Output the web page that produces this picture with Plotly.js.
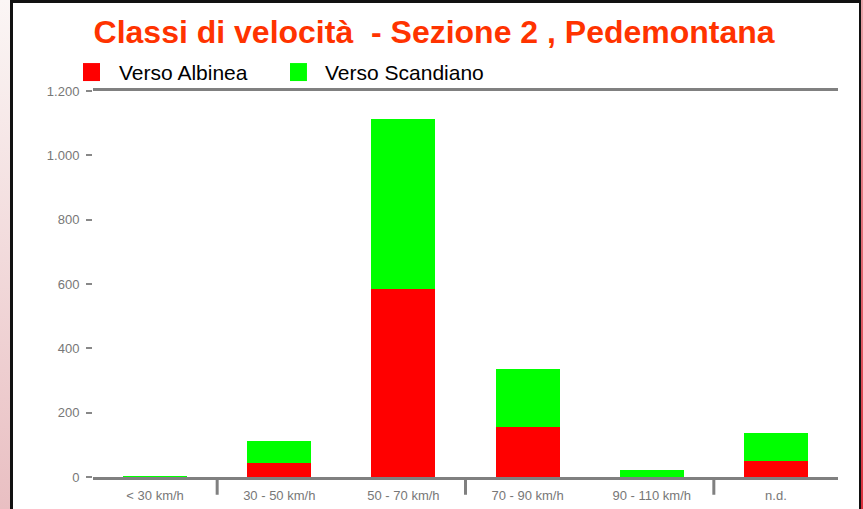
<!DOCTYPE html>
<html>
<head>
<meta charset="utf-8">
<script src="https://cdn.plot.ly/plotly-3.0.1.min.js"></script>
<style>
  html, body { margin: 0; padding: 0; background: #fff; }
  #frame { position: relative; width: 863px; height: 509px; overflow: hidden;
           background: linear-gradient(to bottom, #fbf6f5, #e9bfc2); }
  #box { position: absolute; left: 10px; top: 0; width: 852px; height: 509px; box-sizing: border-box;
         background: #fff; border-left: 3px solid #111; border-right: 3px solid #111; border-top: 3px solid #111; }
  #rstrip { position: absolute; left: 861px; top: 0; width: 2px; height: 509px;
            background: linear-gradient(to bottom, #e8a4aa, #d8303c); }
  #chart { position: absolute; left: 0; top: 0; width: 863px; height: 509px; }
</style>
</head>
<body>
<div id="frame">
  <div id="box"></div>
  <div id="rstrip"></div>
  <div id="chart"></div>
</div>
<script>
const categories = ["< 30 km/h", "30 - 50 km/h", "50 - 70 km/h", "70 - 90 km/h", "90 - 110 km/h", "n.d."];
const seriesNames = ["Verso Albinea", "Verso Scandiano"];
const versoAlbinea = [1, 43, 586, 155, 1, 50];
const versoScandiano = [3, 69, 527, 180, 21, 86];
const yTickValues = [0, 200, 400, 600, 800, 1000, 1200];
const titleText = "Classi di velocità \u00a0- Sezione 2 , Pedemontana";

const colors = ["#ff0000", "#00ff00"];

const traces = [
  { type: "bar", name: seriesNames[0], x: categories, y: versoAlbinea,
    marker: { color: colors[0], line: { width: 0 } }, showlegend: false, hoverinfo: "none" },
  { type: "bar", name: seriesNames[1], x: categories, y: versoScandiano,
    marker: { color: colors[1], line: { width: 0 } }, showlegend: false, hoverinfo: "none" }
];

// separator ticks under the category axis (every other boundary)
const sepShapes = [0.5, 2.5, 4.5].map(v => ({
  type: "line", xref: "x", yref: "paper", x0: v, x1: v, y0: 0, y1: -0.046,
  line: { color: "#808080", width: 3 }
}));

// custom legend
const legendShapes = [
  { type: "rect", xref: "paper", yref: "paper", x0: -0.0134, x1: 0.0094, y0: 1.0258, y1: 1.0724,
    fillcolor: colors[0], line: { width: 0 } },
  { type: "rect", xref: "paper", yref: "paper", x0: 0.2644, x1: 0.2872, y0: 1.0258, y1: 1.0724,
    fillcolor: colors[1], line: { width: 0 } }
];
const legendAnns = [
  { xref: "paper", yref: "paper", x: 0.0322, y: 1.049, xanchor: "left", yanchor: "middle",
    text: seriesNames[0], showarrow: false, font: { family: "Liberation Sans, Arial, sans-serif", size: 21, color: "#000" } },
  { xref: "paper", yref: "paper", x: 0.3087, y: 1.049, xanchor: "left", yanchor: "middle",
    text: seriesNames[1], showarrow: false, font: { family: "Liberation Sans, Arial, sans-serif", size: 21, color: "#000" } }
];

const layout = {
  width: 863, height: 509,
  margin: { l: 93, r: 25, t: 91, b: 32, pad: 0 },
  paper_bgcolor: "rgba(0,0,0,0)",
  plot_bgcolor: "rgba(0,0,0,0)",
  barmode: "stack",
  bargap: 0.484,
  separators: ",.",
  showlegend: false,
  title: {
    text: titleText,
    font: { family: "Liberation Sans, Arial, sans-serif", size: 32, color: "#ff3300", weight: "bold" },
    x: 0.503, xref: "container", xanchor: "center",
    y: 0.938, yref: "container", yanchor: "middle"
  },
  xaxis: {
    type: "category",
    showline: true, mirror: true, linecolor: "#808080", linewidth: 3,
    showgrid: false, zeroline: false, ticks: "",
    tickfont: { family: "Liberation Sans, Arial, sans-serif", size: 13, color: "#777" },
    ticklabelstandoff: 4
  },
  yaxis: {
    range: [0, 1200],
    tickvals: yTickValues,
    tickformat: ",d",
    showline: false, showgrid: false, zeroline: false,
    ticks: "outside", ticklen: 6, tickwidth: 2, tickcolor: "#888",
    tickfont: { family: "Liberation Sans, Arial, sans-serif", size: 13, color: "#777" },
    ticklabelstandoff: 4
  },
  shapes: sepShapes.concat(legendShapes),
  annotations: legendAnns
};

Plotly.newPlot("chart", traces, layout, { staticPlot: true, displayModeBar: false });
</script>
</body>
</html>
